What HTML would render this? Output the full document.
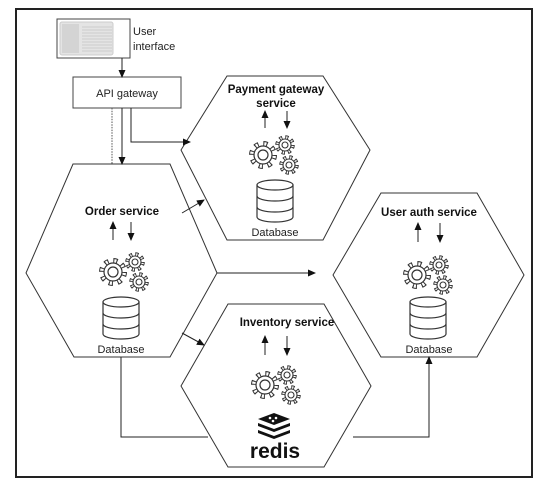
<!DOCTYPE html>
<html><head><meta charset="utf-8"><style>
html,body{margin:0;padding:0;background:#fff}
svg{display:block}
text{font-family:"Liberation Sans",sans-serif;fill:#111}
.t{font-weight:bold;font-size:11.5px}
.s{font-size:11px;fill:#222}
</style></head><body>
<svg width="554" height="486" viewBox="0 0 554 486">
<defs>
<marker id="a" markerWidth="8" markerHeight="8" refX="7" refY="4" orient="auto" markerUnits="userSpaceOnUse">
<path d="M0,0.5 L8,4 L0,7.5 Z" fill="#111"/></marker>
<g id="gear12">
<circle r="11" fill="none" stroke="#333" stroke-width="6" stroke-dasharray="4 4.64"/>
<circle r="11" fill="none" stroke="#fff" stroke-width="4" stroke-dasharray="2 6.64" stroke-dashoffset="-1"/>
<circle r="9" fill="#fff" stroke="#333" stroke-width="1.2"/>
<circle r="5" fill="none" stroke="#333" stroke-width="1.2"/>
</g>
<g id="gear8">
<circle r="7.5" fill="none" stroke="#333" stroke-width="4.5" stroke-dasharray="3 2.9"/>
<circle r="7.5" fill="none" stroke="#fff" stroke-width="2.7" stroke-dasharray="1.2 4.7" stroke-dashoffset="-0.9"/>
<circle r="6" fill="#fff" stroke="#333" stroke-width="1.1"/>
<circle r="3" fill="none" stroke="#333" stroke-width="1.1"/>
</g>
<g id="gears">
<use href="#gear12"/>
<use href="#gear8" x="22" y="-10"/>
<use href="#gear8" x="26" y="10"/>
</g>
<g id="db" fill="#fff" stroke="#333" stroke-width="1.2">
<path d="M0,5 V37 A18,5 0 0 0 36,37 V5"/>
<ellipse cx="18" cy="5" rx="18" ry="5"/>
<path d="M0,16 A18,5 0 0 0 36,16 M0,27 A18,5 0 0 0 36,27" fill="none"/>
</g>
</defs>

<rect x="16" y="9" width="516" height="468" fill="none" stroke="#222" stroke-width="2"/>

<g fill="#fff" stroke="#333" stroke-width="1">
<polygon points="73,164 170,164 217,273 170,357 74,357 26,273"/>
<polygon points="227,76 323,76 370,150 323,240 227,240 181,150"/>
<polygon points="228,304 324,304 371,386 324,467 228,467 181,386"/>
<polygon points="381,193 477,193 524,275 477,357 381,357 333,275"/>
</g>

<rect x="57" y="19" width="73" height="39" fill="#fff" stroke="#444"/>
<rect x="60" y="22" width="53" height="33" rx="2" fill="#e4e4e4" stroke="#ccc"/>
<rect x="62" y="24" width="17" height="29" fill="#d4d4d4"/>
<g stroke="#c4c4c4" stroke-width="0.8">
<line x1="82" y1="27" x2="112" y2="27"/><line x1="82" y1="30" x2="112" y2="30"/><line x1="82" y1="33" x2="112" y2="33"/><line x1="82" y1="36" x2="112" y2="36"/><line x1="82" y1="39" x2="112" y2="39"/><line x1="82" y1="42" x2="112" y2="42"/><line x1="82" y1="45" x2="112" y2="45"/><line x1="82" y1="48" x2="112" y2="48"/><line x1="82" y1="51" x2="112" y2="51"/>
</g>
<text class="s" x="133" y="35" font-size="12">User</text>
<text class="s" x="133" y="50" font-size="12">interface</text>

<rect x="73" y="77" width="108" height="31" fill="#fff" stroke="#444"/>
<text class="s" x="127" y="97" text-anchor="middle" font-size="12">API gateway</text>

<g stroke="#222" stroke-width="1" fill="none">
<line x1="122" y1="58" x2="122" y2="77" marker-end="url(#a)"/>
<line x1="112" y1="108" x2="112" y2="164" stroke-dasharray="1.5 1.2" stroke="#555"/>
<line x1="122" y1="108" x2="122" y2="164" marker-end="url(#a)"/>
<polyline points="131,108 131,142 190,142" marker-end="url(#a)"/>
<line x1="182" y1="213" x2="204" y2="200" marker-end="url(#a)"/>
<line x1="217" y1="273" x2="315" y2="273" marker-end="url(#a)"/>
<line x1="182" y1="333" x2="204" y2="345" marker-end="url(#a)"/>
<polyline points="121,357 121,437 208,437"/>
<polyline points="353,437 429,437 429,357" marker-end="url(#a)"/>
<line x1="113" y1="240" x2="113" y2="222" marker-end="url(#a)"/>
<line x1="131" y1="222" x2="131" y2="240" marker-end="url(#a)"/>
<line x1="265" y1="128" x2="265" y2="111" marker-end="url(#a)"/>
<line x1="287" y1="111" x2="287" y2="128" marker-end="url(#a)"/>
<line x1="418" y1="242" x2="418" y2="223" marker-end="url(#a)"/>
<line x1="440" y1="223" x2="440" y2="242" marker-end="url(#a)"/>
<line x1="265" y1="355" x2="265" y2="336" marker-end="url(#a)"/>
<line x1="287" y1="336" x2="287" y2="355" marker-end="url(#a)"/>
</g>

<text class="t" x="122" y="215" text-anchor="middle">Order service</text>
<text class="t" x="276" y="93" text-anchor="middle">Payment gateway</text>
<text class="t" x="276" y="107" text-anchor="middle">service</text>
<text class="t" x="429" y="216" text-anchor="middle">User auth service</text>
<text class="t" x="287" y="326" text-anchor="middle">Inventory service</text>

<use href="#gears" x="113" y="272"/>
<use href="#db" x="103" y="297"/>
<text class="s" x="121" y="353" text-anchor="middle">Database</text>

<use href="#gears" x="263" y="155"/>
<use href="#db" x="257" y="180"/>
<text class="s" x="275" y="236" text-anchor="middle">Database</text>

<use href="#gears" x="417" y="275"/>
<use href="#db" x="410" y="297"/>
<text class="s" x="429" y="353" text-anchor="middle">Database</text>

<use href="#gears" x="265" y="385"/>
<g fill="#111">
<polygon points="274,413 290,419 274,425 258,419"/>
<polygon points="258,423 274,429 290,423 290,426 274,432 258,426"/>
<polygon points="258,430 274,436 290,430 290,433 274,439 258,433"/>
</g>
<g fill="#fff"><circle cx="270" cy="418" r="1.3"/><circle cx="276" cy="418" r="1.3"/><circle cx="273" cy="421" r="1.3"/></g>
<text x="275" y="458" text-anchor="middle" font-size="21" font-weight="bold" style="font-family:'Liberation Sans',sans-serif">redis</text>
</svg>
</body></html>
